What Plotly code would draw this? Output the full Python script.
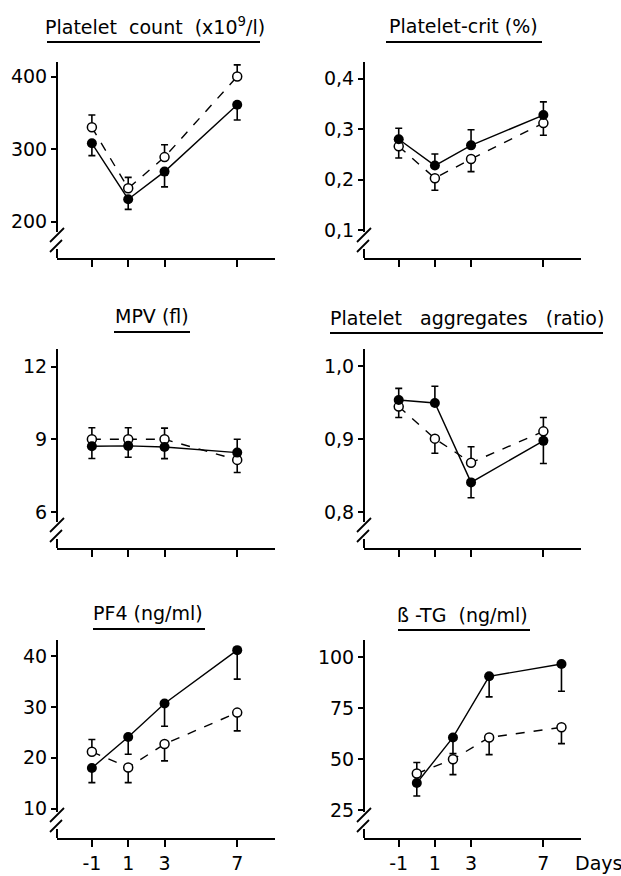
import plotly.graph_objects as go

W, H = 621, 876

days = [-1, 1, 3, 7]
btg_days = [0, 2, 4, 8]
day_ticks = [-1, 1, 3, 7]
day_labels = ["-1", "1", "3", "7"]

# Platelet count (x10^9/l)
count_filled = [308, 231, 269, 361]
count_filled_up = [0, 0, 0, 0]
count_filled_dn = [17, 14, 21, 21]
count_open = [330, 246, 289, 400]
count_open_up = [17, 15, 17, 16]
count_open_dn = [0, 0, 0, 0]

# Platelet-crit (%)
crit_filled = [0.280, 0.228, 0.268, 0.328]
crit_filled_up = [0.022, 0.023, 0.031, 0.026]
crit_filled_dn = [0, 0, 0, 0]
crit_open = [0.266, 0.203, 0.241, 0.312]
crit_open_up = [0, 0, 0, 0]
crit_open_dn = [0.023, 0.024, 0.025, 0.024]

# MPV (fl)
mpv_filled = [8.71, 8.73, 8.68, 8.45]
mpv_filled_up = [0, 0, 0, 0.55]
mpv_filled_dn = [0.50, 0.47, 0.48, 0]
mpv_open = [9.0, 9.0, 9.0, 8.15]
mpv_open_up = [0.48, 0.48, 0.46, 0]
mpv_open_dn = [0, 0, 0, 0.52]

# Platelet aggregates (ratio)
agg_filled = [0.954, 0.950, 0.841, 0.898]
agg_filled_up = [0.016, 0.023, 0, 0]
agg_filled_dn = [0, 0, 0.021, 0.031]
agg_open = [0.945, 0.901, 0.868, 0.911]
agg_open_up = [0, 0, 0.022, 0.019]
agg_open_dn = [0.015, 0.020, 0, 0]

# PF4 (ng/ml)
pf4_filled = [18.0, 24.1, 30.7, 41.2]
pf4_filled_up = [0, 0, 0, 0]
pf4_filled_dn = [2.9, 3.4, 4.5, 5.7]
pf4_open = [21.2, 18.1, 22.7, 28.9]
pf4_open_up = [2.4, 0, 0, 0]
pf4_open_dn = [0, 3.0, 3.3, 3.6]

# beta-TG (ng/ml)
btg_filled = [38.4, 60.7, 90.7, 96.7]
btg_filled_up = [0, 0, 0, 0]
btg_filled_dn = [6.4, 7.9, 10.1, 13.3]
btg_open = [43.0, 50.0, 60.7, 65.7]
btg_open_up = [5.4, 0, 0, 0]
btg_open_dn = [0, 7.5, 8.4, 8.0]

panel_titles = ["Platelet  count  (x10<sup>9</sup>/l)", "Platelet-crit (%)", "MPV (fl)",
                "Platelet   aggregates   (ratio)", "PF4 (ng/ml)", "ß -TG  (ng/ml)"]

y_tickvals = [[200, 300, 400], [0.1, 0.2, 0.3, 0.4], [6, 9, 12],
              [0.8, 0.9, 1.0], [10, 20, 30, 40], [25, 50, 75, 100]]
y_ticktext = [["200", "300", "400"], ["0,1", "0,2", "0,3", "0,4"], ["6", "9", "12"],
              ["0,8", "0,9", "1,0"], ["10", "20", "30", "40"], ["25", "50", "75", "100"]]
y_ranges = [[150, 420], [0.045, 0.433], [4.51, 12.73], [0.751, 1.024], [4.2, 43.2], [11.4, 108.5]]

panels = [
    (days, count_filled, count_filled_up, count_filled_dn, count_open, count_open_up, count_open_dn),
    (days, crit_filled, crit_filled_up, crit_filled_dn, crit_open, crit_open_up, crit_open_dn),
    (days, mpv_filled, mpv_filled_up, mpv_filled_dn, mpv_open, mpv_open_up, mpv_open_dn),
    (days, agg_filled, agg_filled_up, agg_filled_dn, agg_open, agg_open_up, agg_open_dn),
    (days, pf4_filled, pf4_filled_up, pf4_filled_dn, pf4_open, pf4_open_up, pf4_open_dn),
    (btg_days, btg_filled, btg_filled_up, btg_filled_dn, btg_open, btg_open_up, btg_open_dn),
]

# layout geometry (pixels)
col_x = [(57, 275), (364, 581)]
row_y = [(62, 258), (349, 548), (640, 838)]
title_pos = [(155, 26), (463, 26), (152, 316), (467, 318), (148, 613), (462, 615)]
underline = [(47, 260, 42), (386, 542, 42), (114, 190, 332), (330, 603, 333), (93, 205, 629), (398, 530, 630)]

FONT = "DejaVu Sans"
TFS = 19
KFS = 19


def px(x):
    return x / W


def py(y):
    return 1 - y / H


fig = go.Figure()
shapes = []
annotations = []

for i, (xv, f, fu, fd, o, ou, od) in enumerate(panels):
    r, c = i // 2, i % 2
    n = i + 1
    xa = "x" if n == 1 else f"x{n}"
    ya = "y" if n == 1 else f"y{n}"
    x0, x1 = col_x[c]
    y0, y1 = row_y[r]

    fig.add_trace(go.Scatter(
        x=xv, y=o, xaxis=xa, yaxis=ya, mode="lines+markers",
        line=dict(color="black", width=1.4, dash="dash"),
        marker=dict(size=9, color="white", line=dict(color="black", width=1.5)),
        error_y=dict(type="data", symmetric=False, array=ou, arrayminus=od,
                     color="black", thickness=1.6, width=3.5),
        showlegend=False, cliponaxis=False))
    fig.add_trace(go.Scatter(
        x=xv, y=f, xaxis=xa, yaxis=ya, mode="lines+markers",
        line=dict(color="black", width=1.4),
        marker=dict(size=10, color="black"),
        error_y=dict(type="data", symmetric=False, array=fu, arrayminus=fd,
                     color="black", thickness=1.6, width=3.5),
        showlegend=False, cliponaxis=False))

    xkey = "xaxis" if n == 1 else f"xaxis{n}"
    ykey = "yaxis" if n == 1 else f"yaxis{n}"
    fig.layout[xkey] = dict(
        domain=[px(x0), px(x1)], anchor=ya, range=[-2.92, 9.08],
        tickvals=day_ticks, ticktext=day_labels, showticklabels=(r == 2),
        ticks="outside", ticklen=7, tickwidth=2, tickcolor="black",
        showline=True, linecolor="black", linewidth=2, showgrid=False, zeroline=False,
        tickfont=dict(family=FONT, size=KFS, color="black"), fixedrange=True)
    fig.layout[ykey] = dict(
        domain=[py(y1), py(y0)], anchor=xa, range=y_ranges[i],
        tickvals=y_tickvals[i], ticktext=y_ticktext[i],
        ticks="outside", ticklen=5, tickwidth=2, tickcolor="black",
        showline=False, showgrid=False, zeroline=False, ticklabelstandoff=0,
        tickfont=dict(family=FONT, size=KFS, color="black"), fixedrange=True)

    # y axis line with a break near the bottom
    hgt = y1 - y0
    gap_hi = 26 / hgt
    gap_lo = 9 / hgt
    shapes.append(dict(type="line", xref=f"{xa} domain", yref=f"{ya} domain",
                       x0=0, x1=0, y0=gap_hi, y1=1, line=dict(color="black", width=2)))
    shapes.append(dict(type="line", xref=f"{xa} domain", yref=f"{ya} domain",
                       x0=0, x1=0, y0=0, y1=gap_lo, line=dict(color="black", width=2)))
    wdt = x1 - x0
    for (sx0, sy0, sx1, sy1) in [(-7, 16, 7, 30), (-7, 6, 5, 18)]:
        shapes.append(dict(type="line", xref=f"{xa} domain", yref=f"{ya} domain",
                           x0=sx0 / wdt, x1=sx1 / wdt, y0=sy0 / hgt, y1=sy1 / hgt,
                           line=dict(color="black", width=1.8)))

    tx, ty = title_pos[i]
    annotations.append(dict(text=panel_titles[i], x=px(tx), y=py(ty), xref="paper", yref="paper",
                            xanchor="center", yanchor="middle", showarrow=False,
                            font=dict(family=FONT, size=TFS, color="black")))
    ux0, ux1, uy = underline[i]
    shapes.append(dict(type="line", xref="paper", yref="paper", x0=px(ux0), x1=px(ux1),
                       y0=py(uy), y1=py(uy), line=dict(color="black", width=2)))

annotations.append(dict(text="Days", x=px(573), y=py(863), xref="paper", yref="paper",
                        xanchor="left", yanchor="middle", showarrow=False,
                        font=dict(family=FONT, size=KFS, color="black")))

fig.update_layout(width=W, height=H, margin=dict(l=0, r=0, t=0, b=0),
                  paper_bgcolor="white", plot_bgcolor="white",
                  shapes=shapes, annotations=annotations)

fig.write_html("out.html", config={"displayModeBar": False, "staticPlot": True},
               post_script="document.body.style.margin='0';document.body.style.overflow='hidden';")
